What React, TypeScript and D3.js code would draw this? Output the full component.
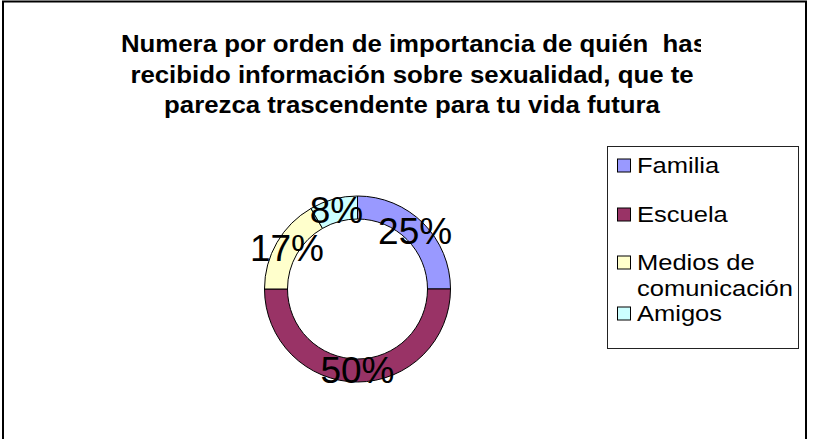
import React from "react";
import * as d3 from "d3";

const categories = ["Familia", "Escuela", "Medios de comunicación", "Amigos"];
const legendLines = [["Familia"], ["Escuela"], ["Medios de", "comunicación"], ["Amigos"]];
const values = [3, 6, 2, 1];
const percentLabels = ["25%", "50%", "17%", "8%"];
const colors = ["#9999FF", "#993366", "#FFFFCC", "#CCFFFF"];
const titleLines = [
  "Numera por orden de importancia de quién  has",
  "recibido información sobre sexualidad, que te",
  "parezca trascendente para tu vida futura",
];

const W = 813;
const H = 439;
const FONT = "'Liberation Sans', Arial, sans-serif";

export default function App() {
  const cx = 357.5;
  const cy = 289;
  const outerR = 93;
  const innerR = 70;
  const pie = d3.pie<number>().sort(null).value((d) => d).startAngle(0).endAngle(2 * Math.PI);
  const arcs = pie(values);
  const arc = d3.arc<d3.PieArcDatum<number>>().innerRadius(innerR).outerRadius(outerR);

  const titleY = d3.scaleLinear().domain([0, 1]).range([52, 82.5]);
  const titleX = [414, 412, 412];
  const legendBaselines = [[173], [222], [270, 296], [321]];

  return (
    <svg
      width={W}
      height={H}
      style={{ position: "absolute", left: 0, top: 0, background: "#fff" }}
    >
      <defs>
        <clipPath id="titleClip">
          <rect x={0} y={0} width={701} height={140} />
        </clipPath>
      </defs>
      <rect x={3} y={1.5} width={803} height={470} fill="#fff" stroke="#000" strokeWidth={2} />
      <g clipPath="url(#titleClip)">
        {titleLines.map((t, i) => (
          <g key={i} transform={`translate(${titleX[i]},${titleY(i)}) scale(1.075,1)`}>
            <text
              x={0}
              y={0}
              textAnchor="middle"
              fontFamily={FONT}
              fontWeight="bold"
              fontSize={24}
              fill="#000"
              style={{ whiteSpace: "pre" }}
            >
              {t}
            </text>
          </g>
        ))}
      </g>
      <g transform={`translate(${cx},${cy})`}>
        {arcs.map((a, i) => (
          <path key={categories[i]} d={arc(a) || ""} fill={colors[i]} stroke="#000" strokeWidth={1} />
        ))}
        {arcs.map((a, i) => {
          const [x, y] = arc.centroid(a);
          return (
            <text
              key={"l" + i}
              x={x}
              y={y}
              dy="0.35em"
              textAnchor="middle"
              fontFamily={FONT}
              fontSize={37}
              fill="#000"
            >
              {percentLabels[i]}
            </text>
          );
        })}
      </g>
      <rect x={607.5} y={146.5} width={191} height={202} fill="#fff" stroke="#222" strokeWidth={1} />
      {categories.map((c, i) => {
        const bl = legendBaselines[i];
        return (
          <g key={"leg" + i}>
            <rect x={617.5} y={bl[0] - 14} width={13} height={13} fill={colors[i]} stroke="#000" strokeWidth={1} />
            {legendLines[i].map((ln, j) => (
              <g key={j} transform={`translate(637,${bl[j]}) scale(1.16,1)`}>
                <text x={0} y={0} fontFamily={FONT} fontSize={22} fill="#000">
                  {ln}
                </text>
              </g>
            ))}
          </g>
        );
      })}
    </svg>
  );
}
